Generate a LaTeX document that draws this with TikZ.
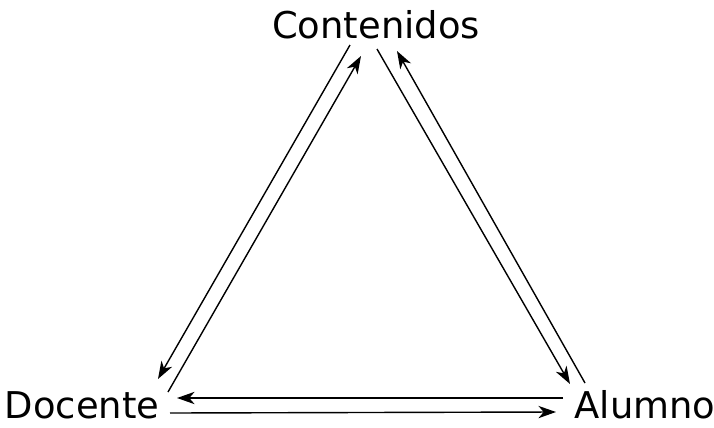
\documentclass[tikz,border=0pt]{standalone}
\usepackage{fontspec}
\setmainfont{DejaVu Sans}
\usetikzlibrary{arrows.meta}
\begin{document}
\begin{tikzpicture}[x=0.02cm, y=-0.02cm, every node/.style={font=\fontsize{21}{24}\selectfont, inner sep=0pt},
  flow/.style={line width=0.8pt, -{Stealth[length=10pt, width=7pt, inset=3pt]}}]
  \useasboundingbox (0,0) rectangle (714,427);
  \node[anchor=base] (contenidos) at (376,38) {Contenidos};
  \node[anchor=base] (docente) at (82,418) {Docente};
  \node[anchor=base] (alumno) at (645,418) {Alumno};
  % ends of the arrows
  \coordinate (cl1) at (350,45);  \coordinate (dl1) at (158,379);
  \coordinate (dl2) at (168,392); \coordinate (cl2) at (361,56);
  \coordinate (cr1) at (377,49);  \coordinate (ar1) at (570,384);
  \coordinate (ar2) at (585,383); \coordinate (cr2) at (397,51);
  \coordinate (ab1) at (563,398); \coordinate (db1) at (177,398);
  \coordinate (db2) at (170,413); \coordinate (ab2) at (556,412);
  \draw[flow] (cl1) -- (dl1);
  \draw[flow] (dl2) -- (cl2);
  \draw[flow] (cr1) -- (ar1);
  \draw[flow] (ar2) -- (cr2);
  \draw[flow] (ab1) -- (db1);
  \draw[flow] (db2) -- (ab2);
\end{tikzpicture}
\end{document}
